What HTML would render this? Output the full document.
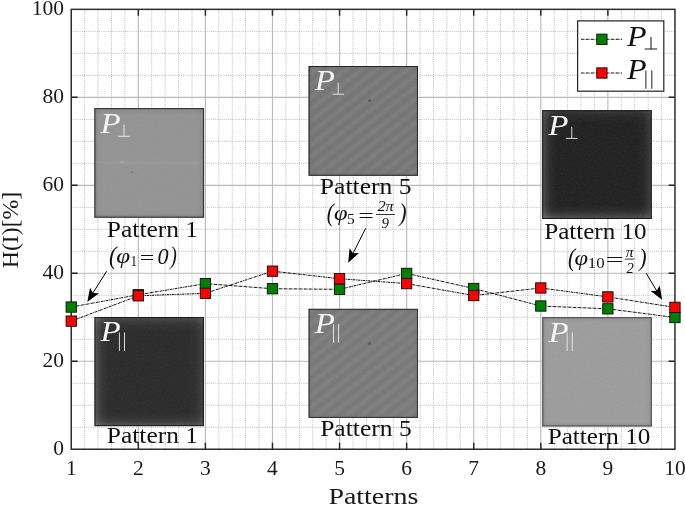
<!DOCTYPE html>
<html><head><meta charset="utf-8"><title>chart</title>
<style>html,body{margin:0;padding:0;background:#fff;}svg{display:block;will-change:transform;}text{font-family:"Liberation Serif",serif;}</style></head><body>
<svg width="685" height="505" viewBox="0 0 685 505">
<defs>
<linearGradient id="ewl" x1="0" y1="0" x2="1" y2="0"><stop offset="0" stop-color="#ffffff" stop-opacity="1"/><stop offset="0.22" stop-color="#ffffff" stop-opacity="0.55"/><stop offset="0.55" stop-color="#ffffff" stop-opacity="0.16"/><stop offset="1" stop-color="#ffffff" stop-opacity="0"/></linearGradient>
<linearGradient id="ewr" x1="1" y1="0" x2="0" y2="0"><stop offset="0" stop-color="#ffffff" stop-opacity="1"/><stop offset="0.22" stop-color="#ffffff" stop-opacity="0.55"/><stop offset="0.55" stop-color="#ffffff" stop-opacity="0.16"/><stop offset="1" stop-color="#ffffff" stop-opacity="0"/></linearGradient>
<linearGradient id="ewt" x1="0" y1="0" x2="0" y2="1"><stop offset="0" stop-color="#ffffff" stop-opacity="1"/><stop offset="0.22" stop-color="#ffffff" stop-opacity="0.55"/><stop offset="0.55" stop-color="#ffffff" stop-opacity="0.16"/><stop offset="1" stop-color="#ffffff" stop-opacity="0"/></linearGradient>
<linearGradient id="ewb" x1="0" y1="1" x2="0" y2="0"><stop offset="0" stop-color="#ffffff" stop-opacity="1"/><stop offset="0.22" stop-color="#ffffff" stop-opacity="0.55"/><stop offset="0.55" stop-color="#ffffff" stop-opacity="0.16"/><stop offset="1" stop-color="#ffffff" stop-opacity="0"/></linearGradient>
<linearGradient id="ekl" x1="0" y1="0" x2="1" y2="0"><stop offset="0" stop-color="#000000" stop-opacity="1"/><stop offset="0.22" stop-color="#000000" stop-opacity="0.55"/><stop offset="0.55" stop-color="#000000" stop-opacity="0.16"/><stop offset="1" stop-color="#000000" stop-opacity="0"/></linearGradient>
<linearGradient id="ekr" x1="1" y1="0" x2="0" y2="0"><stop offset="0" stop-color="#000000" stop-opacity="1"/><stop offset="0.22" stop-color="#000000" stop-opacity="0.55"/><stop offset="0.55" stop-color="#000000" stop-opacity="0.16"/><stop offset="1" stop-color="#000000" stop-opacity="0"/></linearGradient>
<linearGradient id="ekt" x1="0" y1="0" x2="0" y2="1"><stop offset="0" stop-color="#000000" stop-opacity="1"/><stop offset="0.22" stop-color="#000000" stop-opacity="0.55"/><stop offset="0.55" stop-color="#000000" stop-opacity="0.16"/><stop offset="1" stop-color="#000000" stop-opacity="0"/></linearGradient>
<linearGradient id="ekb" x1="0" y1="1" x2="0" y2="0"><stop offset="0" stop-color="#000000" stop-opacity="1"/><stop offset="0.22" stop-color="#000000" stop-opacity="0.55"/><stop offset="0.55" stop-color="#000000" stop-opacity="0.16"/><stop offset="1" stop-color="#000000" stop-opacity="0"/></linearGradient>
<linearGradient id="str" gradientUnits="userSpaceOnUse" x1="0" y1="0" x2="0" y2="9.4" spreadMethod="repeat" gradientTransform="rotate(-38)"><stop offset="0" stop-color="#000" stop-opacity="0.05"/><stop offset="0.25" stop-color="#808080" stop-opacity="0"/><stop offset="0.5" stop-color="#fff" stop-opacity="0.06"/><stop offset="0.75" stop-color="#808080" stop-opacity="0"/><stop offset="1" stop-color="#000" stop-opacity="0.05"/></linearGradient>
<filter id="grain" x="0" y="0" width="100%" height="100%" color-interpolation-filters="sRGB"><feTurbulence type="fractalNoise" baseFrequency="0.55" numOctaves="2" seed="7" result="n"/><feColorMatrix in="n" type="matrix" values="0 0 0 0 0.5  0 0 0 0 0.5  0 0 0 0 0.5  1.6 0 0 0 -0.55"/></filter>
</defs>
<rect width="685" height="505" fill="#fff"/>
<path d="M84.67 9.35V449.25M98.08 9.35V449.25M111.50 9.35V449.25M124.91 9.35V449.25M151.74 9.35V449.25M165.16 9.35V449.25M178.57 9.35V449.25M191.99 9.35V449.25M218.82 9.35V449.25M232.24 9.35V449.25M245.65 9.35V449.25M259.07 9.35V449.25M285.90 9.35V449.25M299.31 9.35V449.25M312.73 9.35V449.25M326.15 9.35V449.25M352.98 9.35V449.25M366.39 9.35V449.25M379.81 9.35V449.25M393.22 9.35V449.25M420.05 9.35V449.25M433.47 9.35V449.25M446.89 9.35V449.25M460.30 9.35V449.25M487.13 9.35V449.25M500.55 9.35V449.25M513.96 9.35V449.25M527.38 9.35V449.25M554.21 9.35V449.25M567.63 9.35V449.25M581.04 9.35V449.25M594.46 9.35V449.25M621.29 9.35V449.25M634.70 9.35V449.25M648.12 9.35V449.25M661.53 9.35V449.25M71.25 427.25H674.95M71.25 405.26H674.95M71.25 383.26H674.95M71.25 339.27H674.95M71.25 317.28H674.95M71.25 295.28H674.95M71.25 251.29H674.95M71.25 229.30H674.95M71.25 207.31H674.95M71.25 163.31H674.95M71.25 141.32H674.95M71.25 119.32H674.95M71.25 75.33H674.95M71.25 53.34H674.95M71.25 31.35H674.95" stroke="#adadad" stroke-width="0.85" stroke-dasharray="1 1.15" fill="none"/>
<path d="M138.33 9.35V449.25M205.41 9.35V449.25M272.48 9.35V449.25M339.56 9.35V449.25M406.64 9.35V449.25M473.72 9.35V449.25M540.79 9.35V449.25M607.87 9.35V449.25M71.25 361.27H674.95M71.25 273.29H674.95M71.25 185.31H674.95M71.25 97.33H674.95" stroke="#bbbbbb" stroke-width="1.15" fill="none"/>
<path d="M138.33 449.25v-6.4M138.33 9.35v6.4M205.41 449.25v-6.4M205.41 9.35v6.4M272.48 449.25v-6.4M272.48 9.35v6.4M339.56 449.25v-6.4M339.56 9.35v6.4M406.64 449.25v-6.4M406.64 9.35v6.4M473.72 449.25v-6.4M473.72 9.35v6.4M540.79 449.25v-6.4M540.79 9.35v6.4M607.87 449.25v-6.4M607.87 9.35v6.4M71.25 361.27h6.4M674.95 361.27h-6.4M71.25 273.29h6.4M674.95 273.29h-6.4M71.25 185.31h6.4M674.95 185.31h-6.4M71.25 97.33h6.4M674.95 97.33h-6.4" stroke="#262626" stroke-width="1.45" fill="none"/>
<rect x="71.25" y="9.35" width="603.70" height="439.90" fill="none" stroke="#2c2c2c" stroke-width="1.5"/>
<text x="53.35" y="455.35" font-size="21.6" textLength="10.75" lengthAdjust="spacingAndGlyphs" fill="#1a1a1a">0</text>
<text x="42.60" y="367.37" font-size="21.6" textLength="21.50" lengthAdjust="spacingAndGlyphs" fill="#1a1a1a">20</text>
<text x="42.60" y="279.39" font-size="21.6" textLength="21.50" lengthAdjust="spacingAndGlyphs" fill="#1a1a1a">40</text>
<text x="42.60" y="191.41" font-size="21.6" textLength="21.50" lengthAdjust="spacingAndGlyphs" fill="#1a1a1a">60</text>
<text x="42.60" y="103.43" font-size="21.6" textLength="21.50" lengthAdjust="spacingAndGlyphs" fill="#1a1a1a">80</text>
<text x="31.85" y="15.45" font-size="21.6" textLength="32.25" lengthAdjust="spacingAndGlyphs" fill="#1a1a1a">100</text>
<text x="65.88" y="475.40" font-size="21.6" textLength="10.75" lengthAdjust="spacingAndGlyphs" fill="#1a1a1a">1</text>
<text x="132.95" y="475.40" font-size="21.6" textLength="10.75" lengthAdjust="spacingAndGlyphs" fill="#1a1a1a">2</text>
<text x="200.03" y="475.40" font-size="21.6" textLength="10.75" lengthAdjust="spacingAndGlyphs" fill="#1a1a1a">3</text>
<text x="267.11" y="475.40" font-size="21.6" textLength="10.75" lengthAdjust="spacingAndGlyphs" fill="#1a1a1a">4</text>
<text x="334.19" y="475.40" font-size="21.6" textLength="10.75" lengthAdjust="spacingAndGlyphs" fill="#1a1a1a">5</text>
<text x="401.26" y="475.40" font-size="21.6" textLength="10.75" lengthAdjust="spacingAndGlyphs" fill="#1a1a1a">6</text>
<text x="468.34" y="475.40" font-size="21.6" textLength="10.75" lengthAdjust="spacingAndGlyphs" fill="#1a1a1a">7</text>
<text x="535.42" y="475.40" font-size="21.6" textLength="10.75" lengthAdjust="spacingAndGlyphs" fill="#1a1a1a">8</text>
<text x="602.50" y="475.40" font-size="21.6" textLength="10.75" lengthAdjust="spacingAndGlyphs" fill="#1a1a1a">9</text>
<text x="664.20" y="475.40" font-size="21.6" textLength="21.50" lengthAdjust="spacingAndGlyphs" fill="#1a1a1a">10</text>
<text x="328.40" y="503.60" font-size="24" textLength="90.00" lengthAdjust="spacingAndGlyphs" fill="#1a1a1a">Patterns</text>
<text transform="translate(17.7 268.2) rotate(-90)" font-size="24" textLength="76.4" lengthAdjust="spacingAndGlyphs" fill="#1a1a1a">H(I)[%]</text>
<rect x="94.4" y="108.1" width="109.65" height="109.60" fill="#969696"/>
<rect x="94.4" y="108.1" width="7" height="109.60" fill="url(#ekl)" opacity="0.150"/>
<rect x="197.05" y="108.1" width="7" height="109.60" fill="url(#ekr)" opacity="0.150"/>
<rect x="94.4" y="108.1" width="109.65" height="7" fill="url(#ekt)" opacity="0.150"/>
<rect x="94.4" y="210.70" width="109.65" height="7" fill="url(#ekb)" opacity="0.150"/>
<rect x="94.4" y="108.1" width="109.65" height="109.60" filter="url(#grain)" opacity="0.2"/>
<rect x="94.90" y="108.60" width="108.65" height="108.60" fill="none" stroke="#2e2e2e" stroke-width="1"/>
<text x="100.50" y="132.50" font-size="28.5" textLength="20.22" lengthAdjust="spacingAndGlyphs" font-style="italic" fill="#f4f4f4">P</text>
<path d="M118.1 136.3h11.8M124.0 136.3v-11.6" stroke="#eee" stroke-width="0.9" fill="none"/>
<rect x="94.5" y="317.05" width="109.45" height="109.05" fill="#2c2c2c"/>
<rect x="94.5" y="317.05" width="15" height="109.05" fill="url(#ewl)" opacity="0.230"/>
<rect x="188.95" y="317.05" width="15" height="109.05" fill="url(#ewr)" opacity="0.119"/>
<rect x="94.5" y="317.05" width="109.45" height="15" fill="url(#ewt)" opacity="0.162"/>
<rect x="94.5" y="411.10" width="109.45" height="15" fill="url(#ewb)" opacity="0.196"/>
<rect x="94.5" y="317.05" width="109.45" height="109.05" filter="url(#grain)" opacity="0.11"/>
<rect x="95.00" y="317.55" width="108.45" height="108.05" fill="none" stroke="#1c1c1c" stroke-width="1"/>
<text x="100.60" y="341.45" font-size="28.5" textLength="20.22" lengthAdjust="spacingAndGlyphs" font-style="italic" fill="#f4f4f4">P</text>
<path d="M119.4 332.4v18.5M124.5 332.4v18.5" stroke="#eee" stroke-width="0.9" fill="none"/>
<rect x="308.6" y="66.0" width="109.40" height="109.75" fill="#797979"/>
<rect x="308.6" y="66.0" width="109.40" height="109.75" fill="url(#str)"/>
<rect x="308.6" y="66.0" width="5" height="109.75" fill="url(#ekl)" opacity="0.080"/>
<rect x="413.00" y="66.0" width="5" height="109.75" fill="url(#ekr)" opacity="0.080"/>
<rect x="308.6" y="66.0" width="109.40" height="5" fill="url(#ekt)" opacity="0.080"/>
<rect x="308.6" y="170.75" width="109.40" height="5" fill="url(#ekb)" opacity="0.080"/>
<rect x="308.6" y="66.0" width="109.40" height="109.75" filter="url(#grain)" opacity="0.2"/>
<rect x="309.10" y="66.50" width="108.40" height="108.75" fill="none" stroke="#262626" stroke-width="1"/>
<text x="314.70" y="90.40" font-size="28.5" textLength="20.22" lengthAdjust="spacingAndGlyphs" font-style="italic" fill="#f4f4f4">P</text>
<path d="M332.3 94.2h11.8M338.2 94.2v-11.6" stroke="#eee" stroke-width="0.9" fill="none"/>
<rect x="308.6" y="308.85" width="109.40" height="109.05" fill="#7c7c7c"/>
<rect x="308.6" y="308.85" width="109.40" height="109.05" fill="url(#str)"/>
<rect x="308.6" y="308.85" width="5" height="109.05" fill="url(#ekl)" opacity="0.080"/>
<rect x="413.00" y="308.85" width="5" height="109.05" fill="url(#ekr)" opacity="0.080"/>
<rect x="308.6" y="308.85" width="109.40" height="5" fill="url(#ekt)" opacity="0.080"/>
<rect x="308.6" y="412.90" width="109.40" height="5" fill="url(#ekb)" opacity="0.080"/>
<rect x="308.6" y="308.85" width="109.40" height="109.05" filter="url(#grain)" opacity="0.2"/>
<rect x="309.10" y="309.35" width="108.40" height="108.05" fill="none" stroke="#303030" stroke-width="1"/>
<text x="314.70" y="333.25" font-size="28.5" textLength="20.22" lengthAdjust="spacingAndGlyphs" font-style="italic" fill="#f4f4f4">P</text>
<path d="M333.5 324.2v18.5M338.6 324.2v18.5" stroke="#eee" stroke-width="0.9" fill="none"/>
<rect x="542.2" y="110.2" width="109.50" height="108.80" fill="#222222"/>
<rect x="542.2" y="110.2" width="15" height="108.80" fill="url(#ewl)" opacity="0.237"/>
<rect x="636.70" y="110.2" width="15" height="108.80" fill="url(#ewr)" opacity="0.152"/>
<rect x="542.2" y="110.2" width="109.50" height="15" fill="url(#ewt)" opacity="0.105"/>
<rect x="542.2" y="204.00" width="109.50" height="15" fill="url(#ewb)" opacity="0.247"/>
<rect x="542.2" y="110.2" width="109.50" height="108.80" filter="url(#grain)" opacity="0.11"/>
<rect x="542.70" y="110.70" width="108.50" height="107.80" fill="none" stroke="#181818" stroke-width="1"/>
<text x="548.30" y="134.60" font-size="28.5" textLength="20.22" lengthAdjust="spacingAndGlyphs" font-style="italic" fill="#f4f4f4">P</text>
<path d="M565.9 138.4h11.8M571.8 138.4v-11.6" stroke="#eee" stroke-width="0.9" fill="none"/>
<rect x="542.3" y="317.2" width="109.50" height="109.20" fill="#9f9f9f"/>
<rect x="542.3" y="317.2" width="6" height="109.20" fill="url(#ekl)" opacity="0.130"/>
<rect x="645.80" y="317.2" width="6" height="109.20" fill="url(#ekr)" opacity="0.130"/>
<rect x="542.3" y="317.2" width="109.50" height="6" fill="url(#ekt)" opacity="0.130"/>
<rect x="542.3" y="420.40" width="109.50" height="6" fill="url(#ekb)" opacity="0.130"/>
<rect x="542.3" y="317.2" width="109.50" height="109.20" filter="url(#grain)" opacity="0.2"/>
<rect x="542.80" y="317.70" width="108.50" height="108.20" fill="none" stroke="#4a4a4a" stroke-width="1"/>
<text x="548.40" y="341.60" font-size="28.5" textLength="20.22" lengthAdjust="spacingAndGlyphs" font-style="italic" fill="#f4f4f4">P</text>
<path d="M567.2 332.5v18.5M572.3 332.5v18.5" stroke="#eee" stroke-width="0.9" fill="none"/>
<linearGradient id="band" x1="0" y1="0" x2="0" y2="1"><stop offset="0" stop-color="#fff" stop-opacity="0"/><stop offset="0.5" stop-color="#fff" stop-opacity="0.045"/><stop offset="1" stop-color="#fff" stop-opacity="0"/></linearGradient>
<rect x="95.4" y="158.8" width="107.6" height="7" fill="url(#band)"/>
<circle cx="122.1" cy="161.8" r="1.9" fill="#fff" fill-opacity="0.10"/><circle cx="131.9" cy="172.2" r="0.9" fill="none" stroke="#6e6e6e" stroke-width="0.45"/>
<circle cx="369.5" cy="100.6" r="1.4" fill="#555"/><circle cx="369.5" cy="343.4" r="1.3" fill="#5c5c5c"/>
<text x="106.89" y="236.80" font-size="22.3" textLength="91.23" lengthAdjust="spacingAndGlyphs" fill="#111">Pattern 1</text>
<text x="106.79" y="443.40" font-size="22.3" textLength="91.23" lengthAdjust="spacingAndGlyphs" fill="#111">Pattern 1</text>
<text x="319.88" y="193.90" font-size="22.3" textLength="91.70" lengthAdjust="spacingAndGlyphs" fill="#111">Pattern 5</text>
<text x="320.18" y="435.60" font-size="22.3" textLength="91.50" lengthAdjust="spacingAndGlyphs" fill="#111">Pattern 5</text>
<text x="544.20" y="238.90" font-size="22.3" textLength="102.34" lengthAdjust="spacingAndGlyphs" fill="#111">Pattern 10</text>
<text x="547.70" y="443.60" font-size="22.3" textLength="102.65" lengthAdjust="spacingAndGlyphs" fill="#111">Pattern 10</text>
<polyline points="71.25,307.06 138.33,294.75 205.41,283.67 272.48,288.72 339.56,289.34 406.64,273.42 473.72,288.50 540.79,306.01 607.87,308.82 674.95,317.48" fill="none" stroke="#0c0c0c" stroke-width="1" stroke-dasharray="2.8 0.7 0.8 0.7"/>
<polyline points="71.25,321.13 138.33,295.80 205.41,293.30 272.48,271.18 339.56,278.74 406.64,283.58 473.72,295.54 540.79,287.98 607.87,296.90 674.95,307.41" fill="none" stroke="#0c0c0c" stroke-width="1" stroke-dasharray="2.8 0.7 0.8 0.7"/>
<rect x="66.10" y="301.91" width="10.3" height="10.3" fill="#008000" stroke="#111" stroke-width="0.95"/>
<rect x="133.18" y="289.60" width="10.3" height="10.3" fill="#008000" stroke="#111" stroke-width="0.95"/>
<rect x="200.26" y="278.52" width="10.3" height="10.3" fill="#008000" stroke="#111" stroke-width="0.95"/>
<rect x="267.33" y="283.57" width="10.3" height="10.3" fill="#008000" stroke="#111" stroke-width="0.95"/>
<rect x="334.41" y="284.19" width="10.3" height="10.3" fill="#008000" stroke="#111" stroke-width="0.95"/>
<rect x="401.49" y="268.27" width="10.3" height="10.3" fill="#008000" stroke="#111" stroke-width="0.95"/>
<rect x="468.57" y="283.35" width="10.3" height="10.3" fill="#008000" stroke="#111" stroke-width="0.95"/>
<rect x="535.64" y="300.86" width="10.3" height="10.3" fill="#008000" stroke="#111" stroke-width="0.95"/>
<rect x="602.72" y="303.67" width="10.3" height="10.3" fill="#008000" stroke="#111" stroke-width="0.95"/>
<rect x="669.80" y="312.33" width="10.3" height="10.3" fill="#008000" stroke="#111" stroke-width="0.95"/>
<rect x="66.10" y="315.98" width="10.3" height="10.3" fill="#ff0000" stroke="#111" stroke-width="0.95"/>
<rect x="133.18" y="290.65" width="10.3" height="10.3" fill="#ff0000" stroke="#111" stroke-width="0.95"/>
<rect x="200.26" y="288.15" width="10.3" height="10.3" fill="#ff0000" stroke="#111" stroke-width="0.95"/>
<rect x="267.33" y="266.03" width="10.3" height="10.3" fill="#ff0000" stroke="#111" stroke-width="0.95"/>
<rect x="334.41" y="273.59" width="10.3" height="10.3" fill="#ff0000" stroke="#111" stroke-width="0.95"/>
<rect x="401.49" y="278.43" width="10.3" height="10.3" fill="#ff0000" stroke="#111" stroke-width="0.95"/>
<rect x="468.57" y="290.39" width="10.3" height="10.3" fill="#ff0000" stroke="#111" stroke-width="0.95"/>
<rect x="535.64" y="282.83" width="10.3" height="10.3" fill="#ff0000" stroke="#111" stroke-width="0.95"/>
<rect x="602.72" y="291.75" width="10.3" height="10.3" fill="#ff0000" stroke="#111" stroke-width="0.95"/>
<rect x="669.80" y="302.26" width="10.3" height="10.3" fill="#ff0000" stroke="#111" stroke-width="0.95"/>
<rect x="577.6" y="20.9" width="86.2" height="70.3" fill="#fff" stroke="#222" stroke-width="1.2"/>
<path d="M581 39.3H622" stroke="#0c0c0c" stroke-width="1" stroke-dasharray="2.8 0.7 0.8 0.7"/>
<rect x="596.75" y="34.15" width="10.3" height="10.3" fill="#008000" stroke="#111" stroke-width="0.95"/>
<path d="M581 73.0H622" stroke="#0c0c0c" stroke-width="1" stroke-dasharray="2.8 0.7 0.8 0.7"/>
<rect x="596.75" y="67.85" width="10.3" height="10.3" fill="#ff0000" stroke="#111" stroke-width="0.95"/>
<text x="627.09" y="45.60" font-size="28.5" textLength="19.60" lengthAdjust="spacingAndGlyphs" font-style="italic" fill="#111">P</text>
<path d="M644.8 49.0h12.4M651 49.0v-12.1" stroke="#1a1a1a" stroke-width="1.05" fill="none"/>
<text x="627.09" y="79.10" font-size="28.5" textLength="19.60" lengthAdjust="spacingAndGlyphs" font-style="italic" fill="#111">P</text>
<path d="M645.9 70.5v18.2M651.8 70.5v18.2" stroke="#2a2a2a" stroke-width="1.05" fill="none"/>
<text x="108.91" y="264.20" font-size="25.0" textLength="7.52" lengthAdjust="spacingAndGlyphs" font-style="italic" fill="#111">(</text>
<text x="116.27" y="263.40" font-size="21.5" textLength="13.91" lengthAdjust="spacingAndGlyphs" font-style="italic" fill="#111">φ</text>
<text x="130.54" y="266.00" font-size="14.6" textLength="6.66" lengthAdjust="spacingAndGlyphs" fill="#111">1</text>
<text x="139.73" y="264.20" font-size="19.5" textLength="14.61" lengthAdjust="spacingAndGlyphs" fill="#111">=</text>
<text x="157.46" y="263.90" font-size="23.4" textLength="11.11" lengthAdjust="spacingAndGlyphs" font-style="italic" fill="#111">0</text>
<text x="170.14" y="264.20" font-size="25.0" textLength="6.55" lengthAdjust="spacingAndGlyphs" font-style="italic" fill="#111">)</text>
<text x="326.86" y="221.40" font-size="25.0" textLength="7.04" lengthAdjust="spacingAndGlyphs" font-style="italic" fill="#111">(</text>
<text x="333.99" y="219.80" font-size="21.5" textLength="13.58" lengthAdjust="spacingAndGlyphs" font-style="italic" fill="#111">φ</text>
<text x="346.91" y="223.80" font-size="14.6" textLength="7.69" lengthAdjust="spacingAndGlyphs" fill="#111">5</text>
<text x="358.25" y="221.85" font-size="19.5" textLength="15.58" lengthAdjust="spacingAndGlyphs" fill="#111">=</text>
<text x="377.40" y="211.00" font-size="13.6" textLength="16.42" lengthAdjust="spacingAndGlyphs" font-style="italic" fill="#111">2π</text>
<path d="M376.0 214.5H394.9" stroke="#111" stroke-width="0.85"/>
<text x="381.57" y="227.60" font-size="13.6" textLength="7.47" lengthAdjust="spacingAndGlyphs" font-style="italic" fill="#111">9</text>
<text x="399.35" y="221.40" font-size="25.0" textLength="7.31" lengthAdjust="spacingAndGlyphs" font-style="italic" fill="#111">)</text>
<text x="567.95" y="265.70" font-size="25.0" textLength="7.14" lengthAdjust="spacingAndGlyphs" font-style="italic" fill="#111">(</text>
<text x="574.59" y="264.70" font-size="21.5" textLength="13.58" lengthAdjust="spacingAndGlyphs" font-style="italic" fill="#111">φ</text>
<text x="587.74" y="268.30" font-size="14.6" textLength="16.80" lengthAdjust="spacingAndGlyphs" fill="#111">10</text>
<text x="605.84" y="266.35" font-size="19.5" textLength="17.99" lengthAdjust="spacingAndGlyphs" fill="#111">=</text>
<text x="625.72" y="256.60" font-size="13.6" textLength="7.82" lengthAdjust="spacingAndGlyphs" font-style="italic" fill="#111">π</text>
<path d="M624.8 259.1H634.5" stroke="#111" stroke-width="0.85"/>
<text x="626.50" y="272.60" font-size="13.6" textLength="7.31" lengthAdjust="spacingAndGlyphs" font-style="italic" fill="#111">2</text>
<text x="639.35" y="265.70" font-size="25.0" textLength="7.31" lengthAdjust="spacingAndGlyphs" font-style="italic" fill="#111">)</text>
<path d="M106.7 271.2L92.9 293.0" stroke="#000" stroke-width="1" fill="none"/>
<path d="M87.3 301.9L90.0 287.7L92.9 293.0L99.0 293.3Z" fill="#000"/>
<path d="M365.7 228.3L353.0 253.3" stroke="#000" stroke-width="1" fill="none"/>
<path d="M348.2 262.7L349.6 248.3L353.0 253.3L359.0 253.1Z" fill="#000"/>
<path d="M646.2 273.2L656.7 290.8" stroke="#000" stroke-width="1" fill="none"/>
<path d="M662.1 299.8L650.6 290.9L656.7 290.8L659.7 285.5Z" fill="#000"/>
</svg></body></html>
